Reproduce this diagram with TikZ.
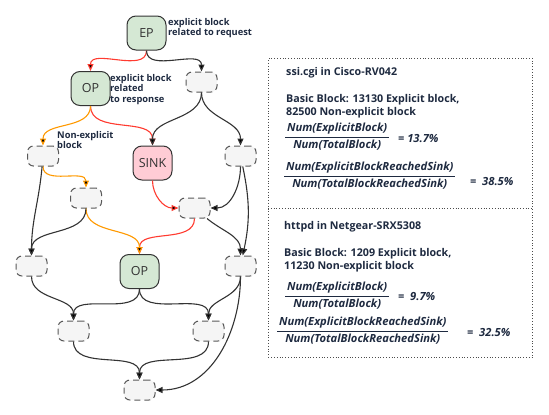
\documentclass[tikz,border=0pt]{standalone}
\usepackage{fontspec}
\setmainfont{Open Sans}
\usepackage{tikz}
\usetikzlibrary{arrows.meta}

\definecolor{opgreen}{HTML}{D5E8D4}
\definecolor{sinkpink}{HTML}{FFCCD5}
\definecolor{emptygray}{HTML}{F5F5F5}
\definecolor{edgered}{HTML}{FF3B30}
\definecolor{edgeorange}{HTML}{FF9900}
\definecolor{edgeblack}{HTML}{333333}
\definecolor{textnavy}{HTML}{1E2A40}

\newcommand{\ratiofrac}[2]{\begin{tabular}{@{\,}c@{\,}}#1\\[1pt]\hline\rule{0pt}{11.5pt}#2\end{tabular}}

\begin{document}
\begin{tikzpicture}[x=1pt,y=-1pt,
  opnode/.style={draw=edgeblack, line width=1pt, rounded corners=9pt, fill=opgreen,
    minimum width=39pt, minimum height=34pt, text=edgeblack, font=\fontsize{12.5}{14}\selectfont},
  sinknode/.style={opnode, fill=sinkpink},
  blank/.style={draw=black!65, dash pattern=on 6pt off 4pt, line width=1pt, rounded corners=6pt,
    fill=emptygray, minimum width=31pt, minimum height=20pt},
  note/.style={text=textnavy, font=\bfseries\fontsize{9.3}{10.5}\selectfont, align=left, anchor=west, inner sep=0pt},
  boxtext/.style={text=textnavy, font=\bfseries\fontsize{10.7}{13.5}\selectfont, align=left, anchor=west, inner sep=0pt},
  ratio/.style={text=textnavy, font=\bfseries\itshape\fontsize{11.2}{12}\selectfont, anchor=west, inner sep=0pt},
  panel/.style={draw=black!70, dotted, line width=0.8pt, anchor=north west, inner sep=0pt},
  flow/.style={-{Triangle[length=7pt,width=6pt]}, line width=1.1pt},
]
\useasboundingbox (0,0) rectangle (549,415);
\setlength{\arrayrulewidth}{0.9pt}

% graph
\node[opnode] (EP) at (146.5,33) {EP};
\node[blank] (e1) at (201.5,82) {};
\node[opnode] (OP1) at (90.5,88.5) {OP};
\node[blank] (n1) at (43,156) {};
\node[sinknode] (SINK) at (152.5,163) {SINK};
\node[blank] (r1) at (240.5,156) {};
\node[blank] (n2) at (86,198) {};
\node[blank] (m2) at (194.5,208) {};
\node[blank] (l3) at (31.5,266) {};
\node[opnode] (OP2) at (139.5,271.5) {OP};
\node[blank] (r3) at (240.5,266) {};
\node[blank] (l4) at (73.5,331) {};
\node[blank] (r4) at (208.5,331) {};
\node[blank] (bot) at (139.5,390) {};

\node[note] (noteEP) at (168,28) {explicit block\\related to request};
\node[note] (noteOP) at (110,89.5) {explicit block\\related\\to response};
\node[note] (noteN) at (57,140) {Non-explicit\\block};

\path[flow, draw=edgered]
  (EP) edge[out=-90,in=90] (OP1)
  (OP1) edge[out=-90,in=90] (SINK)
  (SINK) edge[out=-90,in=180] (m2)
  (m2) edge[out=-90,in=90] (OP2)
  ;
\path[flow, draw=edgeorange]
  (OP1) edge[out=-90,in=90] (n1)
  (n1) edge[out=-90,in=90] (n2)
  (n2) edge[out=-90,in=90] (OP2)
  ;
\path[flow, draw=edgeblack]
  (EP) edge[out=-90,in=90] (e1)
  (e1) edge[out=-90,in=90] (SINK)
  (e1) edge[out=-90,in=90] (r1)
  (r1) edge[out=-90,in=0] (m2)
  (r1) edge[out=-78,in=78] (r3)
  (m2) edge[out=-40,in=90] (r3)
  (n1) edge[out=-95,in=90] (l3)
  (n2) edge[out=-90,in=90] (l3)
  (l3) edge[out=-90,in=90] (l4)
  (OP2) edge[out=-90,in=90] (l4)
  (OP2) edge[out=-90,in=90] (r4)
  (r3) edge[out=-90,in=90] (r4)
  (r3) edge[out=-90,in=0] (bot)
  (l4) edge[out=-90,in=90] (bot)
  (r4) edge[out=-90,in=90] (bot)
  ;

% statistics
\node[panel, minimum width=264pt, minimum height=299pt] (stats) at (268,58) {};
\draw[draw=black!70, dotted, line width=0.8pt] (stats.west |- 0,208) -- (stats.east |- 0,208);

\node[boxtext] (cisco) at (286,73) {ssi.cgi in Cisco-RV042};
\node[boxtext] (ciscobb) at (286,106) {Basic Block: 13130 Explicit block,\\82500 Non-explicit block};
\node[ratio] (ciscoA) at (285,138) {\ratiofrac{Num(ExplicitBlock)}{Num(TotalBlock)}};
\node[ratio] (ciscoAv) at (398,139) {= 13.7\%};
\node[ratio] (ciscoB) at (284,177) {\ratiofrac{Num(ExplicitBlockReachedSink)}{Num(TotalBlockReachedSink)}};
\node[ratio] (ciscoBv) at (470,182) {= \ 38.5\%};

\node[boxtext] (netgear) at (284,227) {httpd in Netgear-SRX5308};
\node[boxtext] (netgearbb) at (284,260) {Basic Block: 1209 Explicit block,\\11230 Non-explicit block};
\node[ratio] (netgearA) at (285,297) {\ratiofrac{Num(ExplicitBlock)}{Num(TotalBlock)}};
\node[ratio] (netgearAv) at (398,297) {= \ 9.7\%};
\node[ratio] (netgearB) at (277,332) {\ratiofrac{Num(ExplicitBlockReachedSink)}{Num(TotalBlockReachedSink)}};
\node[ratio] (netgearBv) at (467,333) {= \ 32.5\%};
\end{tikzpicture}
\end{document}
